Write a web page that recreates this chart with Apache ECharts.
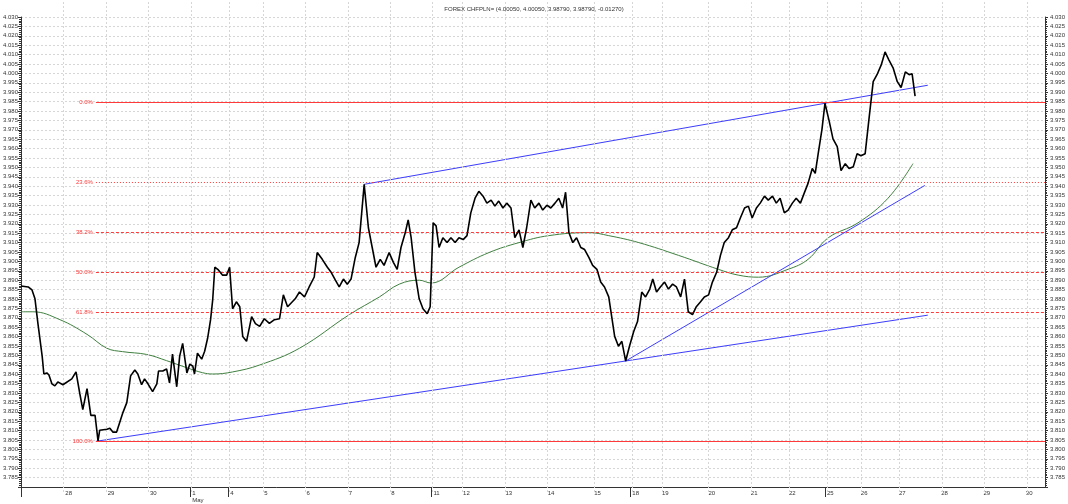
<!DOCTYPE html>
<html>
<head>
<meta charset="utf-8">
<script src="https://cdn.jsdelivr.net/npm/echarts@6/dist/echarts.min.js"></script>
<style>
  html, body { margin: 0; padding: 0; background: #fff; }
  #chart { width: 1068px; height: 504px; }
</style>
</head>
<body>
<div id="chart"></div>
<script>
// bar index -> price (hourly bars, last bar = 27 May)
var price = [
  [0, 3.8869], [1.7, 3.8864], [2.6, 3.8848], [3.3, 3.8801], [4.0, 3.8669], [5.0, 3.8496], [5.4, 3.8401],
  [6.1, 3.8407], [6.6, 3.8396], [7.3, 3.8349], [8.0, 3.8338], [8.7, 3.8359], [9.9, 3.8344], [12.0, 3.8375],
  [13.0, 3.8412], [13.9, 3.8296], [14.6, 3.8212], [15.6, 3.8323], [16.5, 3.8181], [17.5, 3.8181], [18.2, 3.8045],
  [18.6, 3.8102], [20.3, 3.8107], [21.0, 3.8113], [21.7, 3.8092], [22.6, 3.8092], [24.1, 3.8197], [25.0, 3.8249],
  [25.9, 3.8391], [26.9, 3.8422], [27.6, 3.8401], [28.5, 3.8344], [29.2, 3.8375], [30.0, 3.8349], [31.1, 3.8307],
  [32.1, 3.8349], [32.5, 3.8417], [33.5, 3.8417], [34.4, 3.8428], [35.1, 3.8354], [35.8, 3.8507], [36.8, 3.8333],
  [37.5, 3.8496], [38.2, 3.8564], [39.2, 3.8407], [39.9, 3.8454], [40.6, 3.8443], [41.0, 3.8401], [41.7, 3.8512],
  [42.7, 3.8480], [43.4, 3.8522], [44.1, 3.8591], [44.8, 3.8690], [45.3, 3.8795], [45.8, 3.8969], [46.5, 3.8958],
  [47.6, 3.8927], [48.6, 3.8927], [49.3, 3.8969], [50.0, 3.8748], [50.9, 3.8785], [51.7, 3.8759], [52.4, 3.8601],
  [53.3, 3.8575], [54.5, 3.8706], [55.4, 3.8669], [56.4, 3.8654], [57.5, 3.8695], [58.7, 3.8670], [59.9, 3.8690],
  [61.1, 3.8695], [62.0, 3.8822], [63.0, 3.8759], [63.9, 3.8780], [64.8, 3.8801], [65.8, 3.8837], [67.0, 3.8811],
  [68.1, 3.8864], [69.3, 3.8917], [70.0, 3.9047], [71.2, 3.9011], [72.4, 3.8969], [73.3, 3.8942], [74.3, 3.8900],
  [75.2, 3.8864], [76.2, 3.8906], [77.1, 3.8879], [78.0, 3.8906], [79.0, 3.9021], [79.9, 3.9100], [81.1, 3.9410],
  [82.1, 3.9179], [83.0, 3.9074], [83.9, 3.8969], [84.9, 3.9011], [85.8, 3.8979], [87.0, 3.9047], [88.0, 3.8995],
  [88.9, 3.8958], [89.8, 3.9074], [90.8, 3.9152], [91.5, 3.9221], [92.2, 3.9126], [93.1, 3.8942], [94.1, 3.8801],
  [95.0, 3.8748], [96.0, 3.8722], [96.7, 3.8759], [97.4, 3.9205], [98.1, 3.9189], [98.8, 3.9074], [99.7, 3.9126],
  [100.7, 3.9100], [101.6, 3.9126], [102.6, 3.9100], [103.5, 3.9126], [104.5, 3.9116], [105.4, 3.9137],
  [106.3, 3.9258], [107.3, 3.9336], [108.2, 3.9373], [109.2, 3.9347], [110.1, 3.9310], [111.1, 3.9326],
  [112.0, 3.9294], [112.9, 3.9321], [113.9, 3.9284], [114.8, 3.9310], [115.8, 3.9284], [116.7, 3.9126],
  [117.7, 3.9168], [118.6, 3.9074], [119.5, 3.9179], [120.5, 3.9326], [121.4, 3.9284], [122.4, 3.9310],
  [123.3, 3.9273], [124.3, 3.9299], [125.2, 3.9284], [126.2, 3.9310], [127.1, 3.9336], [128.0, 3.9284],
  [128.7, 3.9368], [129.5, 3.9152], [130.4, 3.9100], [131.3, 3.9126], [132.3, 3.9074], [133.2, 3.9063],
  [134.2, 3.9021], [135.1, 3.8979], [136.1, 3.8958], [137.0, 3.8890], [137.9, 3.8864], [138.9, 3.8811],
  [139.6, 3.8706], [140.3, 3.8601], [141.2, 3.8549], [142.0, 3.8575], [142.9, 3.8470], [143.8, 3.8549],
  [144.8, 3.8627], [145.7, 3.8680], [146.7, 3.8837], [147.6, 3.8811], [148.6, 3.8853], [149.3, 3.8906],
  [150.2, 3.8837], [151.1, 3.8864], [152.1, 3.8890], [153.0, 3.8853], [154.0, 3.8879], [154.9, 3.8864],
  [155.9, 3.8811], [156.8, 3.8906], [157.7, 3.8732], [158.7, 3.8717], [159.6, 3.8759], [160.6, 3.8785],
  [161.5, 3.8811], [162.5, 3.8822], [163.4, 3.8890], [164.4, 3.8942], [165.3, 3.9032], [166.2, 3.9100],
  [167.2, 3.9126], [168.1, 3.9168], [169.1, 3.9179], [170.0, 3.9231], [171.0, 3.9284], [171.9, 3.9294],
  [172.8, 3.9231], [173.8, 3.9284], [174.7, 3.9310], [175.7, 3.9347], [176.6, 3.9326], [177.6, 3.9347],
  [178.5, 3.9310], [179.4, 3.9336], [180.4, 3.9258], [181.3, 3.9273], [182.3, 3.9310], [183.2, 3.9336],
  [184.2, 3.9310], [185.1, 3.9363], [186.0, 3.9415], [187.0, 3.9494], [187.7, 3.9468], [188.4, 3.9573],
  [189.3, 3.9704], [190.0, 3.9841], [191.0, 3.9746], [191.9, 3.9652], [192.9, 3.9610], [193.8, 3.9483],
  [194.8, 3.9520], [195.7, 3.9494], [196.7, 3.9504], [197.6, 3.9573], [198.5, 3.9562], [199.5, 3.9573],
  [200.4, 3.9757], [201.4, 3.9956], [202.3, 3.9993], [203.3, 4.0045], [204.2, 4.0114], [205.1, 4.0072],
  [206.1, 4.0030], [207.1, 3.9956], [208.0, 3.9925], [209.0, 4.0008], [209.9, 3.9993], [210.6, 3.9998],
  [211.3, 3.9879]
];

// moving average
var ma = [
  [0, 3.8732], [2.8, 3.8732], [9.2, 3.8690], [15.6, 3.8612], [20.3, 3.8538], [24.0, 3.8520], [29.7, 3.8505],
  [34.4, 3.8472], [39.1, 3.8435], [42.9, 3.8408], [45.3, 3.8401], [50.0, 3.8412], [56.4, 3.8449],
  [65.8, 3.8538], [77.6, 3.8717], [84.7, 3.8811], [89.4, 3.8879], [94.1, 3.8900], [96.9, 3.8885], [103.5, 3.8969],
  [110.6, 3.9047], [117.7, 3.9100], [124.7, 3.9137], [134.2, 3.9153], [138.9, 3.9137], [146.0, 3.9100],
  [155.4, 3.9032], [164.8, 3.8958], [169.5, 3.8927], [174.3, 3.8916], [181.3, 3.8958], [186.0, 3.9011],
  [190.8, 3.9126], [197.8, 3.9205], [204.9, 3.9336], [210.8, 3.9520]
];

// trend lines
var upperTrend = [[81.1, 3.9410], [214.3, 3.9937]];
var lowerTrend = [[17.7, 3.8043], [214.3, 3.8714]];
var midTrend = [[142.9, 3.8470], [213.6, 3.9404]];

// fibonacci
var fibHigh = 3.9845;
var fibLow = 3.8043;
var fibStart = 17.7;
var fibLevels = [0, 23.6, 38.2, 50, 61.8, 100];

// x axis: day start bars
var lastBar = 242;
var dayStart = [10, 20, 30, 40, 49, 57, 67, 77, 87, 97, 104, 114, 124, 135, 144, 151, 162, 172, 181, 190, 198, 207, 217, 227, 237];
var dayLabel = ['28', '29', '30', '1', '4', '5', '6', '7', '8', '11', '12', '13', '14', '15', '18', '19', '20', '21', '22', '25', '26', '27', '28', '29', '30'];
var weekStart = [0, 40, 49, 97, 144, 190];

var bars = [];
for (var i = 0; i <= lastBar; i++) bars.push(String(i));

function isDay(i) { return dayStart.indexOf(i) >= 0; }

var myChart = echarts.init(document.getElementById('chart'));

var fibLines = fibLevels.map(function (p) {
  var v = fibHigh - (fibHigh - fibLow) * p / 100;
  var solid = (p === 0 || p === 100);
  return [
    {
      coord: [fibStart, v],
      lineStyle: { color: '#ff3a3a', width: 1, type: solid ? 'solid' : (p === 23.6 ? [1, 2] : [3, 2]) },
      label: { show: true, position: 'start', formatter: p.toFixed(1) + '%', color: '#ff3a3a', fontSize: 6, distance: 3 }
    },
    { coord: [lastBar, v] }
  ];
});

var dayLines = dayStart.map(function (d) { return { xAxis: d }; });

var fontFam = 'Liberation Sans, Arial, sans-serif';
var gridDash = { color: '#d6d6d6', type: [2, 2], width: 1 };

var option = {
  animation: false,
  backgroundColor: '#fff',
  title: {
    text: 'FOREX CHFPLN= (4.00050, 4.00050, 3.98790, 3.98790, -0.01270)',
    left: 'center',
    top: 1,
    textStyle: { fontSize: 6, fontWeight: 'normal', color: '#333', fontFamily: fontFam }
  },
  grid: [
    { left: 21, right: 20, top: 17, bottom: 12 },
    { left: 21, right: 20, top: 0, bottom: 12 }
  ],
  xAxis: [
    {
      type: 'category', gridIndex: 0, data: bars, boundaryGap: false,
      axisLine: { lineStyle: { color: '#333', width: 1 } },
      axisTick: {
        interval: function (i) { return weekStart.indexOf(i) >= 0; },
        length: 10, lineStyle: { color: '#333' }
      },
      axisLabel: {
        interval: function (i) { return isDay(i); },
        formatter: function (v, i) {
          var k = dayStart.indexOf(i);
          if (k < 0) return '';
          return dayLabel[k] === '1' ? '1\nMay' : dayLabel[k];
        },
        align: 'left', padding: [0, 0, 0, 2], margin: 3,
        fontSize: 6, lineHeight: 7, color: '#333', fontFamily: fontFam
      },
      splitLine: { show: false }
    },
    { type: 'value', gridIndex: 0, min: 0, max: lastBar, show: false, splitLine: { show: false } },
    { type: 'value', gridIndex: 1, min: 0, max: lastBar, show: false, splitLine: { show: false } }
  ],
  yAxis: [
    {
      type: 'value', gridIndex: 0, position: 'left', min: 3.78, max: 4.03, interval: 0.005,
      axisLine: { show: true, lineStyle: { color: '#333' } },
      axisTick: { show: true, length: 3, lineStyle: { color: '#333' } },
      minorTick: { show: true, splitNumber: 5, length: 2, lineStyle: { color: '#333' } },
      axisLabel: {
        formatter: function (v) { return v < 3.7825 ? '' : v.toFixed(3); },
        fontSize: 6, color: '#333', margin: 3, fontFamily: fontFam
      },
      splitLine: { show: true, lineStyle: gridDash }
    },
    {
      type: 'value', gridIndex: 0, position: 'right', min: 3.78, max: 4.03, interval: 0.005,
      axisLine: { show: true, lineStyle: { color: '#333' } },
      axisTick: { show: true, length: 3, lineStyle: { color: '#333' } },
      minorTick: { show: true, splitNumber: 5, length: 2, lineStyle: { color: '#333' } },
      axisLabel: {
        formatter: function (v) { return v < 3.7825 ? '' : v.toFixed(3); },
        fontSize: 6, color: '#333', margin: 5, fontFamily: fontFam
      },
      splitLine: { show: false }
    },
    { type: 'value', gridIndex: 1, min: 0, max: 1, show: false, splitLine: { show: false } }
  ],
  series: [
    {
      name: 'days', type: 'line', xAxisIndex: 2, yAxisIndex: 2, data: [[0, 0]],
      showSymbol: false, lineStyle: { opacity: 0 }, z: 1,
      markLine: {
        silent: true, symbol: 'none', label: { show: false },
        lineStyle: gridDash,
        data: dayLines
      }
    },
    {
      name: 'MA', type: 'line', xAxisIndex: 1, yAxisIndex: 0, data: ma, smooth: 0.4,
      showSymbol: false, lineStyle: { color: '#3f7f3f', width: 1 }, z: 3
    },
    {
      name: 'upper', type: 'line', xAxisIndex: 1, yAxisIndex: 0, data: upperTrend,
      showSymbol: false, lineStyle: { color: '#3c3cff', width: 1 }, z: 4
    },
    {
      name: 'lower', type: 'line', xAxisIndex: 1, yAxisIndex: 0, data: lowerTrend,
      showSymbol: false, lineStyle: { color: '#3c3cff', width: 1 }, z: 4
    },
    {
      name: 'mid', type: 'line', xAxisIndex: 1, yAxisIndex: 0, data: midTrend,
      showSymbol: false, lineStyle: { color: '#3c3cff', width: 1 }, z: 4
    },
    {
      name: 'CHFPLN', type: 'line', xAxisIndex: 1, yAxisIndex: 0, data: price,
      showSymbol: false, lineStyle: { color: '#000', width: 1.6 }, z: 5,
      markLine: { silent: true, symbol: 'none', data: fibLines }
    }
  ]
};

myChart.setOption(option);
</script>
</body>
</html>
